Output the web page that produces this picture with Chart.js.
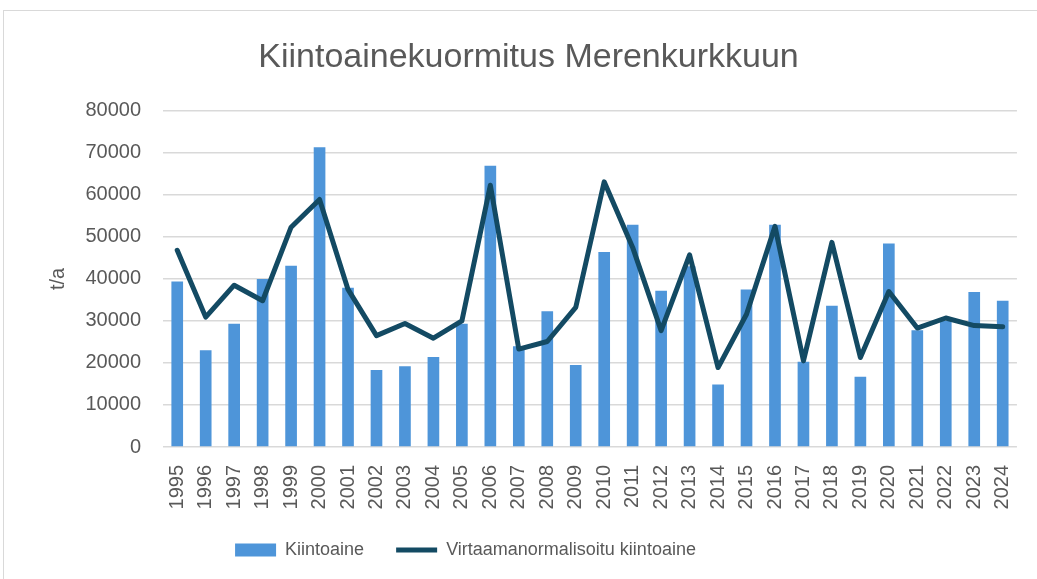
<!DOCTYPE html>
<html>
<head>
<meta charset="utf-8">
<script src="https://cdn.jsdelivr.net/npm/chart.js@4"></script>
<style>
    html, body { margin: 0; padding: 0; background: #fff; }
    #frame { position: absolute; left: 3px; top: 10px; width: 1100px; height: 600px; border: 1px solid #d9d9d9; }
    #wrap { position: absolute; left: 0; top: 0; width: 1037px; height: 579px; }
</style>
</head>
<body>
<div id="frame"></div>
<div id="wrap"><canvas id="loadChart"></canvas></div>
<script>
    // data
    const years = ['1995', '1996', '1997', '1998', '1999', '2000', '2001', '2002', '2003', '2004',
        '2005', '2006', '2007', '2008', '2009', '2010', '2011', '2012', '2013', '2014',
        '2015', '2016', '2017', '2018', '2019', '2020', '2021', '2022', '2023', '2024'];

    const kiintoaine = [39400, 23000, 29300, 40000, 43100, 71300, 37900, 18300, 19200, 21400,
        29300, 66900, 24000, 32300, 19500, 46400, 52900, 37200, 43000, 14900,
        37500, 52900, 20300, 33600, 16700, 48400, 27800, 30000, 36900, 34800];

    const normalisoitu = [46800, 30900, 38500, 34800, 52300, 58900, 37500, 26500, 29400, 25900,
        30000, 62300, 23300, 25100, 33200, 63100, 47500, 27700, 45700, 18900,
        31600, 52500, 20500, 48700, 21300, 37000, 28300, 30700, 28900, 28600];

    const yTicks = [0, 10000, 20000, 30000, 40000, 50000, 60000, 70000, 80000];

    const textColor = '#595959';
    const sansFont = "'Liberation Sans', Arial, sans-serif";

    // move legend a bit left like in the original
    const legendShift = {
        id: 'legendShift',
        afterLayout(chart) {
            chart.legend.left -= 63;
            chart.legend.right -= 63;
        }
    };

    let ctx = document.getElementById('loadChart');

    let loadChart = new Chart(ctx, {
        data: {
            labels: years,
            datasets: [
                {
                    type: 'bar',
                    label: 'Kiintoaine',
                    data: kiintoaine,
                    backgroundColor: '#4e95d9',
                    borderWidth: 0,
                    barPercentage: 1,
                    categoryPercentage: 0.41,
                    order: 1
                },
                {
                    type: 'line',
                    label: 'Virtaamanormalisoitu kiintoaine',
                    data: normalisoitu,
                    borderColor: '#134a63',
                    backgroundColor: '#134a63',
                    borderWidth: 5,
                    tension: 0,
                    pointRadius: 0,
                    borderJoinStyle: 'round',
                    borderCapStyle: 'round',
                    order: 0
                }
            ]
        },
        options: {
            responsive: true,
            maintainAspectRatio: false,
            animation: false,
            layout: {
                padding: { left: 38, right: 18, top: 0, bottom: 10 }
            },
            scales: {
                x: {
                    grid: { display: false },
                    border: { display: false },
                    ticks: {
                        color: textColor,
                        font: { family: sansFont, size: 20 },
                        minRotation: 90,
                        maxRotation: 90,
                        padding: 10
                    },
                    afterFit: (scale) => { scale.height = 62; }
                },
                y: {
                    min: 0,
                    max: 80000,
                    afterBuildTicks: (scale) => { scale.ticks = yTicks.map(v => ({ value: v })); },
                    grid: { color: '#d9d9d9', lineWidth: 1.5, drawTicks: false },
                    border: { display: false },
                    ticks: {
                        color: textColor,
                        font: { family: sansFont, size: 20 },
                        padding: 22,
                        callback: (value) => String(value)
                    },
                    title: {
                        display: true,
                        text: 't/a',
                        color: textColor,
                        font: { family: sansFont, size: 20 },
                        padding: { top: 8, bottom: 0 }
                    },
                    afterFit: (scale) => { scale.width = 125; }
                }
            },
            plugins: {
                title: {
                    display: true,
                    text: 'Kiintoainekuormitus Merenkurkkuun',
                    color: textColor,
                    font: { family: sansFont, size: 34, weight: 'normal' },
                    padding: { top: 37, bottom: 33 }
                },
                legend: {
                    position: 'bottom',
                    labels: {
                        color: textColor,
                        font: { family: sansFont, size: 18 },
                        usePointStyle: true,
                        pointStyleWidth: 41,
                        boxHeight: 13,
                        padding: 32,
                        sort: (a, b) => a.datasetIndex - b.datasetIndex,
                        generateLabels: (chart) => {
                            const items = Chart.defaults.plugins.legend.labels.generateLabels(chart);
                            items.forEach(item => {
                                item.pointStyle = item.datasetIndex === 0 ? 'rect' : 'line';
                            });
                            return items;
                        }
                    }
                },
                tooltip: { enabled: false }
            }
        },
        plugins: [legendShift]
    });
</script>
</body>
</html>
